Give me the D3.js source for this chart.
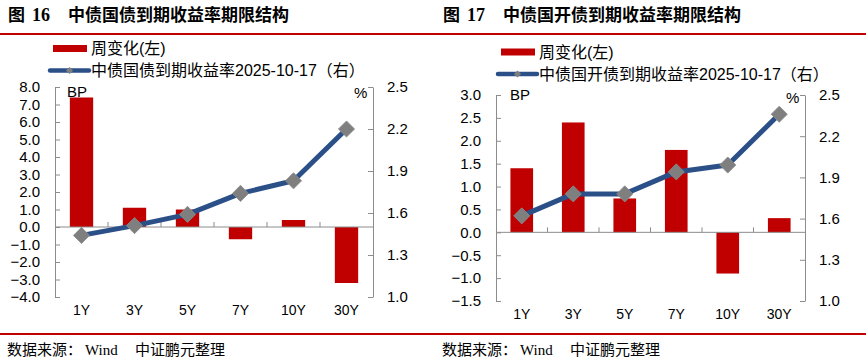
<!DOCTYPE html>
<html><head><meta charset="utf-8">
<script src="https://cdn.jsdelivr.net/npm/d3@7/dist/d3.min.js"></script>
<style>
html,body{margin:0;padding:0;background:#fff;}
svg{display:block;}
</style></head>
<body>
<svg id="c" width="866" height="364"></svg>
<script>
// ---- data ----
const categories = ["1Y","3Y","5Y","7Y","10Y","30Y"];
const govWeeklyChange = [7.4, 1.1, 1.0, -0.7, 0.4, -3.2];
const govYield = [1.44, 1.51, 1.59, 1.74, 1.83, 2.20];
const cdbWeeklyChange = [1.4, 2.4, 0.74, 1.8, -0.9, 0.31];
const cdbYield = [1.62, 1.78, 1.78, 1.94, 1.99, 2.36];
const govLeftTicks = [8,7,6,5,4,3,2,1,0,-1,-2,-3,-4];
const cdbLeftTicks = [3,2.5,2,1.5,1,0.5,0,-0.5,-1,-1.5];
const rightTicks = [2.5,2.2,1.9,1.6,1.3,1.0];
const titles = [
  {fig:"图", num:"16", text:"中债国债到期收益率期限结构"},
  {fig:"图", num:"17", text:"中债国开债到期收益率期限结构"}
];
const barLegend = "周变化(左)";
const lineLegends = ["中债国债到期收益率2025-10-17（右）","中债国开债到期收益率2025-10-17（右）"];
const sourceParts = ["数据来源：","Wind","中证鹏元整理"];

const svg = d3.select("#c");
const RED = "#C00000", BLUE = "#2B5088", GRAY = "#7F7F7F", AXIS = "#8C8C8C";
const SANS = "'Liberation Sans', Arial, 'Noto Sans CJK SC', sans-serif";
const CJK = "'Noto Sans CJK SC', sans-serif";

// red rules
svg.append("rect").attr("x",0).attr("y",33).attr("width",866).attr("height",2).attr("fill",RED);
svg.append("rect").attr("x",0).attr("y",333).attr("width",866).attr("height",2).attr("fill",RED);

function drawChart(cfg){
  const g = svg.append("g");
  // title
  const tf = "'Liberation Serif', 'Noto Sans CJK SC', serif";
  g.append("text").attr("x",cfg.ox+8).attr("y",21).text(cfg.title.fig)
    .attr("font-family",CJK).attr("font-weight","bold").attr("font-size",17);
  g.append("text").attr("x",cfg.ox+32).attr("y",21).text(cfg.title.num)
    .attr("font-family",tf).attr("font-weight","bold").attr("font-size",18);
  g.append("text").attr("x",cfg.ox+cfg.titleX).attr("y",21).text(cfg.title.text)
    .attr("font-family",CJK).attr("font-weight","bold").attr("font-size",17);

  // legend
  g.append("rect").attr("x",cfg.lgX).attr("y",cfg.lgY-3.5).attr("width",34).attr("height",7).attr("fill",RED);
  g.append("text").attr("x",cfg.lgX+38).attr("y",cfg.lgY).attr("dy","0.36em").text(barLegend)
    .attr("font-family",SANS).attr("font-size",16);
  const ly = cfg.lgY+22;
  g.append("line").attr("x1",cfg.lgX-3).attr("x2",cfg.lgX+36).attr("y1",ly).attr("y2",ly)
    .attr("stroke",BLUE).attr("stroke-width",4.5).attr("stroke-linecap","round");
  g.append("path").attr("d",d3.symbol(d3.symbolSquare,26)()).attr("transform",`translate(${cfg.lgX+16.5},${ly}) rotate(45)`).attr("fill",GRAY);
  g.append("text").attr("x",cfg.lgX+38).attr("y",ly).attr("dy","0.36em").text(cfg.lineLegend)
    .attr("font-family",SANS).attr("font-size",16);

  const x = d3.scaleBand().domain(categories).range([cfg.x0,cfg.x1]).padding(0);
  const yL = d3.scaleLinear().domain(cfg.lDomain).range([cfg.yb,cfg.yt]);
  const yR = d3.scaleLinear().domain([1.0,2.5]).range([cfg.yb,cfg.yt]);

  // left axis
  const la = g.append("g").attr("transform",`translate(${cfg.x0},0)`)
    .call(d3.axisLeft(yL).tickValues(cfg.lTicks).tickSizeInner(-5).tickSizeOuter(0).tickPadding(15).tickFormat(d3.format(".1f")));
  la.select(".domain").attr("stroke",AXIS);
  la.selectAll(".tick line").attr("stroke",AXIS);
  la.selectAll("text").attr("font-family",SANS).attr("font-size",15).attr("fill","#000");
  // right axis
  const ra = g.append("g").attr("transform",`translate(${cfg.x1},0)`)
    .call(d3.axisRight(yR).tickValues(rightTicks).tickSizeInner(-5).tickSizeOuter(0).tickPadding(14).tickFormat(d3.format(".1f")));
  ra.select(".domain").attr("stroke",AXIS);
  ra.selectAll(".tick line").attr("stroke",AXIS);
  ra.selectAll("text").attr("font-family",SANS).attr("font-size",15).attr("fill","#000");

  // bars
  const bw = x.bandwidth()*0.44;
  g.selectAll(".bar").data(cfg.bars).enter().append("rect")
    .attr("x",(d,i)=>x(categories[i])+x.bandwidth()/2-bw/2)
    .attr("y",d=>yL(Math.max(0,d)))
    .attr("width",bw)
    .attr("height",d=>Math.abs(yL(d)-yL(0)))
    .attr("fill",RED);

  // zero line + category ticks
  g.append("line").attr("x1",cfg.x0).attr("x2",cfg.x1).attr("y1",yL(0)).attr("y2",yL(0)).attr("stroke",AXIS);
  g.selectAll(".ct").data(categories.slice(1)).enter().append("line")
    .attr("x1",d=>x(d)).attr("x2",d=>x(d)).attr("y1",yL(0)).attr("y2",yL(0)-5).attr("stroke",AXIS);

  // category labels
  g.selectAll(".cl").data(categories).enter().append("text")
    .attr("x",d=>x(d)+x.bandwidth()/2).attr("y",cfg.yb+13).attr("dy","0.36em")
    .attr("text-anchor","middle").attr("font-family",SANS).attr("font-size",14).text(d=>d);

  // line
  const line = d3.line().x((d,i)=>x(categories[i])+x.bandwidth()/2).y(d=>yR(d));
  g.append("path").datum(cfg.line).attr("d",line).attr("fill","none").attr("stroke",BLUE)
    .attr("stroke-width",5).attr("stroke-linejoin","round");
  g.selectAll(".mk").data(cfg.line).enter().append("path")
    .attr("d",d3.symbol(d3.symbolSquare,130)())
    .attr("transform",(d,i)=>`translate(${x(categories[i])+x.bandwidth()/2},${yR(d)}) rotate(45)`)
    .attr("fill",GRAY).attr("stroke","#8a8a8a").attr("stroke-width",0.8);

  // unit labels
  g.append("text").attr("x",cfg.bpX).attr("y",cfg.bpY).text("BP").attr("font-family",SANS).attr("font-size",15);
  g.append("text").attr("x",cfg.pctX).attr("y",cfg.pctY).text("%").attr("font-family",SANS).attr("font-size",15);

  // source
  g.append("text").attr("x",cfg.ox+7).attr("y",355).text(sourceParts[0]).attr("font-family",CJK).attr("font-size",15);
  g.append("text").attr("x",cfg.ox+85).attr("y",355).text(sourceParts[1]).attr("font-family","'Liberation Serif', serif").attr("font-size",15);
  g.append("text").attr("x",cfg.ox+135).attr("y",355).text(sourceParts[2]).attr("font-family",CJK).attr("font-size",15);
}

drawChart({ox:0, title:titles[0], titleX:68, lineLegend:lineLegends[0], lgX:53, lgY:48.5,
  x0:55, x1:373, yt:87, yb:297, lDomain:[-4,8], lTicks:govLeftTicks,
  bars:govWeeklyChange, line:govYield, bpX:67, bpY:97, pctX:354, pctY:98});
drawChart({ox:435, title:titles[1], titleX:68, lineLegend:lineLegends[1], lgX:501, lgY:52,
  x0:496, x1:805, yt:95, yb:301, lDomain:[-1.5,3], lTicks:cdbLeftTicks,
  bars:cdbWeeklyChange, line:cdbYield, bpX:510, bpY:100, pctX:786, pctY:103});
</script>
</body></html>
